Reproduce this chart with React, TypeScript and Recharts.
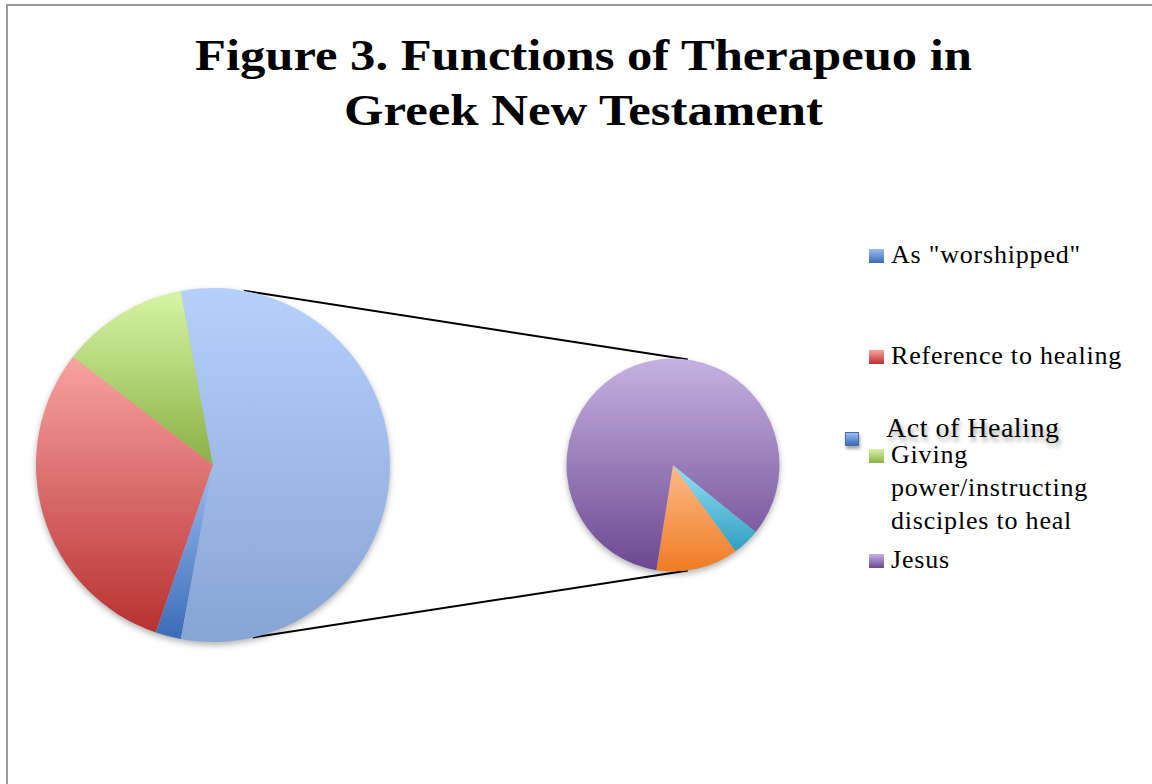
import React from 'react';
import { PieChart, Pie, Cell, Legend } from 'recharts';

// main pie (counts of occurrences), "Act of Healing" is split out into the small pie
const mainLabels = ['Giving power/instructing disciples to heal', 'Reference to healing', 'As "worshipped"'];
const mainCounts = [5, 13, 1];
const mainGradients = ['g-green', 'g-red', 'g-blue'];

const healingLabels = ['Disciples', 'Others', 'Jesus'];
const healingCounts = [3, 1, 20];
const healingGradients = ['g-orange', 'g-cyan', 'g-purple'];

const legendLabels = ['As "worshipped"', 'Reference to healing', 'Giving power/instructing disciples to heal', 'Jesus'];
const legendGradients = ['g-blue', 'g-red', 'g-green', 'g-purple'];

const titleLines = ['Figure 3. Functions of Therapeuo in', 'Greek New Testament'];

const GRADS: Record<string, [string, string]> = {
  'g-blue': ['#9dbcf4', '#3b6cb6'],
  'g-other': ['#b6d0fd', '#86a4d4'],
  'g-red': ['#f8a3a1', '#b83131'],
  'g-green': ['#d7f4a5', '#8bb045'],
  'g-purple': ['#c5b2e1', '#6c4892'],
  'g-cyan': ['#95e0f6', '#2f9fc0'],
  'g-orange': ['#fdba8a', '#ef7c22'],
};

const W = 1152;
const H = 784;
const MAIN = { cx: 213, cy: 465, r: 177 };
const SUB = { cx: 673, cy: 465, r: 106.5 };
const LEGEND_TOPS = [238, 339, 438, 543];
const SERIF = '"Liberation Serif", "Times New Roman", serif';

const healingTotal = healingCounts.reduce((a, b) => a + b, 0);
const mainData = [
  ...mainLabels.map((name, i) => ({ name, value: mainCounts[i], grad: mainGradients[i] })),
  { name: 'Act of Healing', value: healingTotal, grad: 'g-other' },
];
const total = mainData.reduce((a, d) => a + d.value, 0);
// other slice is centered on 3 o'clock, like Excel's pie of pie
const mainStart = ((healingTotal / total) * 360) / 2;
const subData = healingLabels.map((name, i) => ({ name, value: healingCounts[i], grad: healingGradients[i] }));

const rad = (deg: number) => (deg * Math.PI) / 180;
const onCircle = (c: { cx: number; cy: number; r: number }, deg: number) => ({
  x: c.cx + c.r * Math.cos(rad(deg)),
  y: c.cy - c.r * Math.sin(rad(deg)),
});

const gradCss = (id: string) => `linear-gradient(to bottom, ${GRADS[id][0]}, ${GRADS[id][1]})`;

const renderLegend = () => (
  <div style={{ position: 'relative', width: 270, height: 360, fontFamily: SERIF, fontSize: 26, letterSpacing: 0.8, color: '#000' }}>
    {legendLabels.map((label, i) => (
      <div key={label} style={{ position: 'absolute', left: 0, top: LEGEND_TOPS[i] - 238, display: 'flex', alignItems: 'flex-start' }}>
        <div style={{ width: 15, height: 14, marginTop: 11, marginRight: 7, background: gradCss(legendGradients[i]), flexShrink: 0 }} />
        <div style={{ width: 236, lineHeight: '33px' }}>{label}</div>
      </div>
    ))}
    <div style={{ position: 'absolute', left: -24, top: 194, width: 12, height: 12, background: gradCss('g-blue'), border: '1px solid #3f6fae', boxShadow: '1px 3px 3px rgba(0,0,0,0.35)' }} />
    <div style={{ position: 'absolute', left: 17, top: 173, fontSize: 28, letterSpacing: 0.5, lineHeight: '33px', whiteSpace: 'nowrap', textShadow: '2px 4px 4px rgba(0,0,0,0.35)' }}>
      Act of Healing
    </div>
  </div>
);

export default function App() {
  const topA = onCircle(MAIN, 80);
  const botA = onCircle(MAIN, -77);
  const topB = onCircle(SUB, 82);
  const botB = onCircle(SUB, -82);

  return (
    <div style={{ position: 'absolute', left: 0, top: 0, width: W, height: H, background: '#fff', overflow: 'hidden' }}>
      <style>{`.recharts-pie { filter: drop-shadow(0px 3px 3px rgba(0,0,0,0.3)); }`}</style>
      <div style={{ position: 'absolute', left: 6, top: 4, width: W, height: H, borderTop: '2px solid #9c9c9c', borderLeft: '2px solid #9c9c9c' }} />
      <PieChart width={W} height={H} margin={{ top: 0, right: 0, bottom: 0, left: 0 }}>
        <defs>
          {Object.entries(GRADS).map(([id, [a, b]]) => (
            <linearGradient key={id} id={id} x1="0" y1="0" x2="0" y2="1">
              <stop offset="0%" stopColor={a} />
              <stop offset="100%" stopColor={b} />
            </linearGradient>
          ))}
        </defs>
        {titleLines.map((t, i) => (
          <text
            key={t}
            x={583.5}
            y={70 + i * 55}
            textAnchor="middle"
            textLength={i === 0 ? 777 : 479}
            lengthAdjust="spacingAndGlyphs"
            style={{ fontFamily: SERIF, fontWeight: 'bold', fontSize: 45, fill: '#000' }}
          >
            {t}
          </text>
        ))}
        <line x1={topA.x} y1={topA.y} x2={topB.x} y2={topB.y} stroke="#000" strokeWidth={2} />
        <line x1={botA.x} y1={botA.y} x2={botB.x} y2={botB.y} stroke="#000" strokeWidth={2} />
        <Pie
          data={mainData}
          dataKey="value"
          nameKey="name"
          cx={MAIN.cx}
          cy={MAIN.cy}
          outerRadius={MAIN.r}
          startAngle={mainStart}
          endAngle={mainStart + 360}
          stroke="none"
          isAnimationActive={false}
          legendType="none"
        >
          {mainData.map((d) => (
            <Cell key={d.name} fill={`url(#${d.grad})`} />
          ))}
        </Pie>
        <Pie
          data={subData}
          dataKey="value"
          nameKey="name"
          cx={SUB.cx}
          cy={SUB.cy}
          outerRadius={SUB.r}
          startAngle={-99}
          endAngle={261}
          stroke="none"
          isAnimationActive={false}
          legendType="none"
        >
          {subData.map((d) => (
            <Cell key={d.name} fill={`url(#${d.grad})`} />
          ))}
        </Pie>
        <Legend content={renderLegend} wrapperStyle={{ position: 'absolute', left: 869, top: 238, width: 270, height: 360 }} />
      </PieChart>
    </div>
  );
}
